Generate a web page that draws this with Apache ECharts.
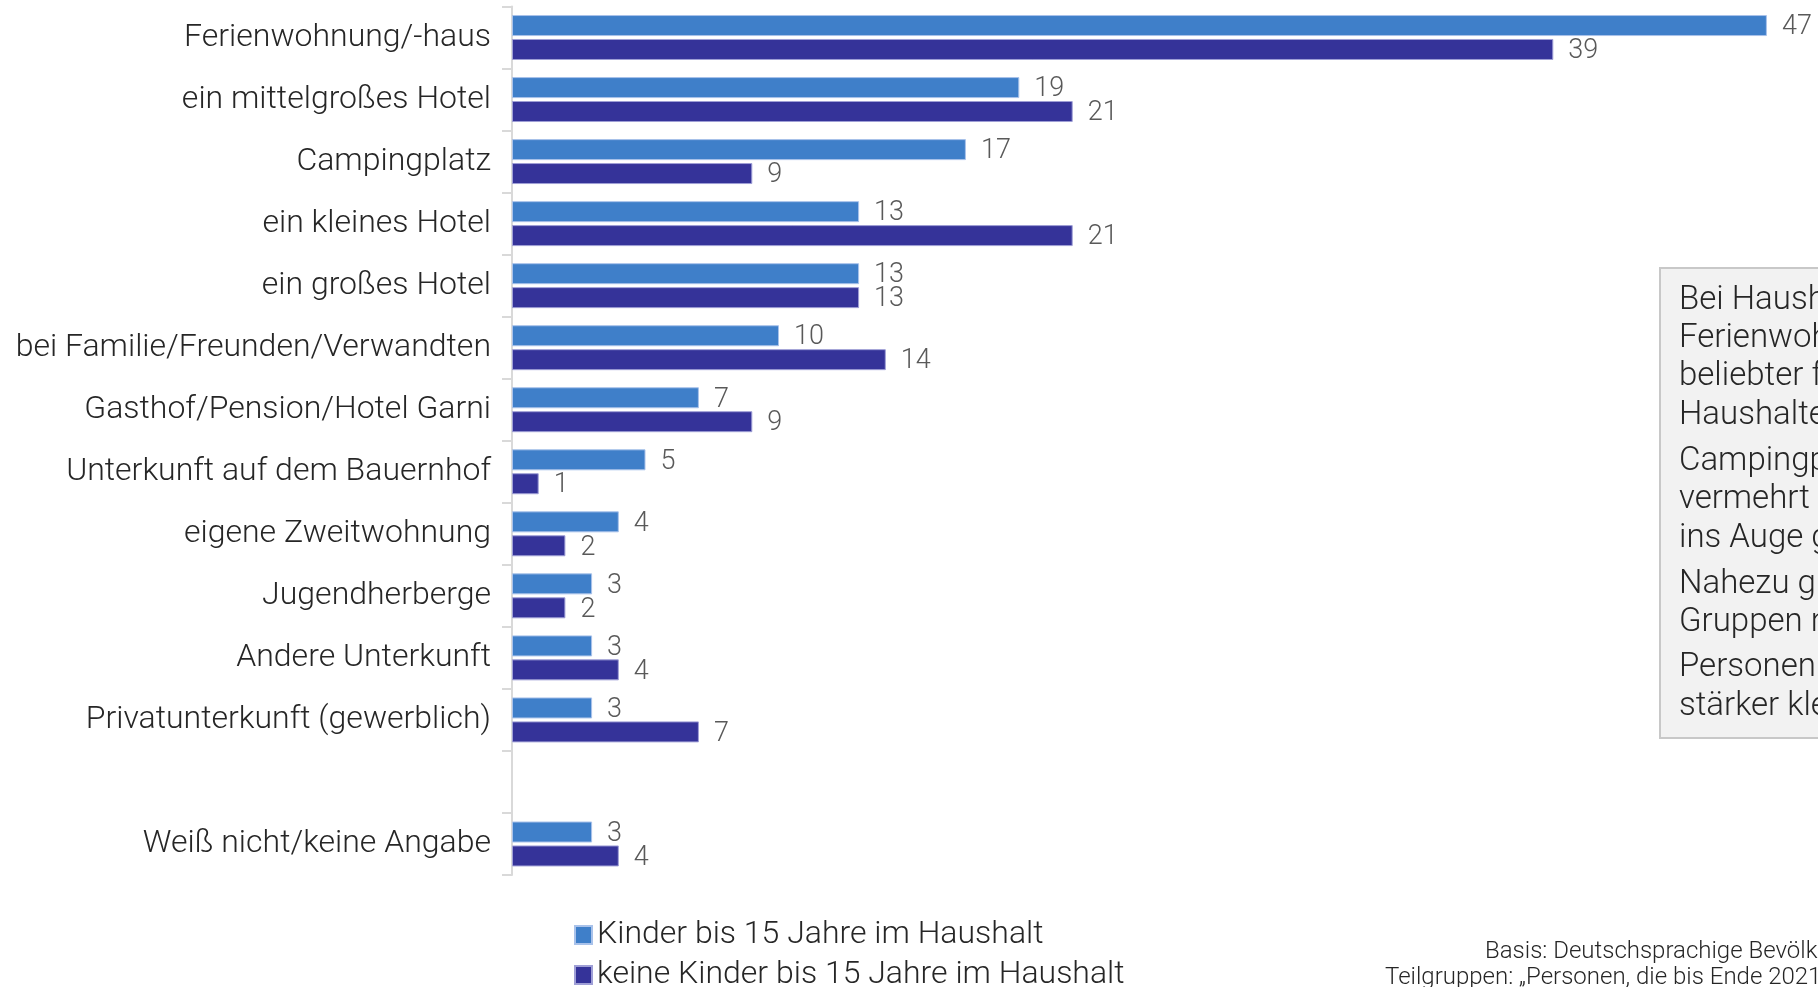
<!DOCTYPE html>
<html>
<head>
<meta charset="utf-8">
<script src="https://cdn.jsdelivr.net/npm/echarts@6/dist/echarts.min.js"></script>
<style>
html,body{margin:0;padding:0;background:#fff;}
#chart{width:1818px;height:987px;}
</style>
</head>
<body>
<div id="chart"></div>
<script>
const categories = ['Ferienwohnung/-haus','ein mittelgroßes Hotel','Campingplatz','ein kleines Hotel','ein großes Hotel','bei Familie/Freunden/Verwandten','Gasthof/Pension/Hotel Garni','Unterkunft auf dem Bauernhof','eigene Zweitwohnung','Jugendherberge','Andere Unterkunft','Privatunterkunft (gewerblich)','','Weiß nicht/keine Angabe'];
const seriesNames = ['Kinder bis 15 Jahre im Haushalt','keine Kinder bis 15 Jahre im Haushalt'];
const kids = [47,19,17,13,13,10,7,5,4,3,3,3,null,3];
const noKids = [39,21,9,21,13,14,9,1,2,2,4,7,null,4];
const boxParagraphs = [
  ['Bei Haushalten mit Kindern ist die','Ferienwohnung/-haus noch deutlich','beliebter für den Urlaub als bei','Haushalten ohne Kinder.'],
  ['Campingplätze werden von Familien','vermehrt wahrgenommen bzw.','ins Auge gefasst.'],
  ['Nahezu gleich viele Personen beider','Gruppen nutzen ein großes Hotel.'],
  ['Personen ohne Kinder nutzen','stärker kleine Hotels.']
];
const footnotes = ['Basis: Deutschsprachige Bevölkerung ab 14 Jahren','Teilgruppen: „Personen, die bis Ende 2021 einen Urlaub planen“'];

const FONT = 'Roboto';
const chart = echarts.init(document.getElementById('chart'), null, {renderer:'canvas'});

const graphics = [];
graphics.push({type:'rect', shape:{x:1660, y:268, width:400, height:470}, style:{fill:'#f2f2f2', stroke:'#c8c8c8', lineWidth:2}, z:10});
const lineCenters = [[298,336,374,413],[459,497,536],[582,620],[665,704]];
boxParagraphs.forEach((p,pi)=>{
  p.forEach((line,li)=>{
    graphics.push({type:'text', x:1679, y:lineCenters[pi][li]+3, z:11,
      style:{text:line, font:'300 33px '+FONT, fill:'#262626', verticalAlign:'middle'}});
  });
});
graphics.push({type:'text', x:1485, y:952, z:11, style:{text:footnotes[0], font:'300 24px '+FONT, fill:'#262626', verticalAlign:'middle'}});
graphics.push({type:'text', x:1385, y:978, z:11, style:{text:footnotes[1], font:'300 24px '+FONT, fill:'#262626', verticalAlign:'middle'}});

const labelStyle = {show:true, position:'right', distance:15, offset:[0,2], color:'#595959', fontSize:27, fontFamily:FONT, fontWeight:300};
const legendText = {fontSize:32, color:'#262626', fontFamily:FONT, fontWeight:300};

chart.setOption({
  animation:false,
  backgroundColor:'#ffffff',
  grid:{left:512, top:6.5, height:868.5, width:1335, containLabel:false, outerBoundsMode:'none'},
  xAxis:{type:'value', min:0, max:50, show:false, splitLine:{show:false}},
  yAxis:{type:'category', data:categories, inverse:true,
    axisLine:{show:true, lineStyle:{color:'#d9d9d9', width:2}},
    axisTick:{show:true, length:10, lineStyle:{color:'#d9d9d9', width:2}},
    axisLabel:{fontSize:32, color:'#262626', fontFamily:FONT, fontWeight:300, margin:21, padding:[0,0,4,0]}
  },
  legend:[
    {orient:'vertical', left:569, top:914, itemWidth:17, itemHeight:18, icon:'rect', textStyle:legendText, data:[seriesNames[0]]},
    {orient:'vertical', left:569, top:954, itemWidth:17, itemHeight:18, icon:'rect', textStyle:legendText, data:[seriesNames[1]]}
  ],
  series:[
    {name:seriesNames[0], type:'bar', data:kids, barWidth:21, barGap:'14%',
      itemStyle:{color:'#3f7fc9', borderColor:'#a9c2ea', borderWidth:1}, label:labelStyle},
    {name:seriesNames[1], type:'bar', data:noKids, barWidth:21,
      itemStyle:{color:'#353399', borderColor:'#9f9fd6', borderWidth:1}, label:labelStyle}
  ],
  graphic:graphics
});
</script>
</body>
</html>
